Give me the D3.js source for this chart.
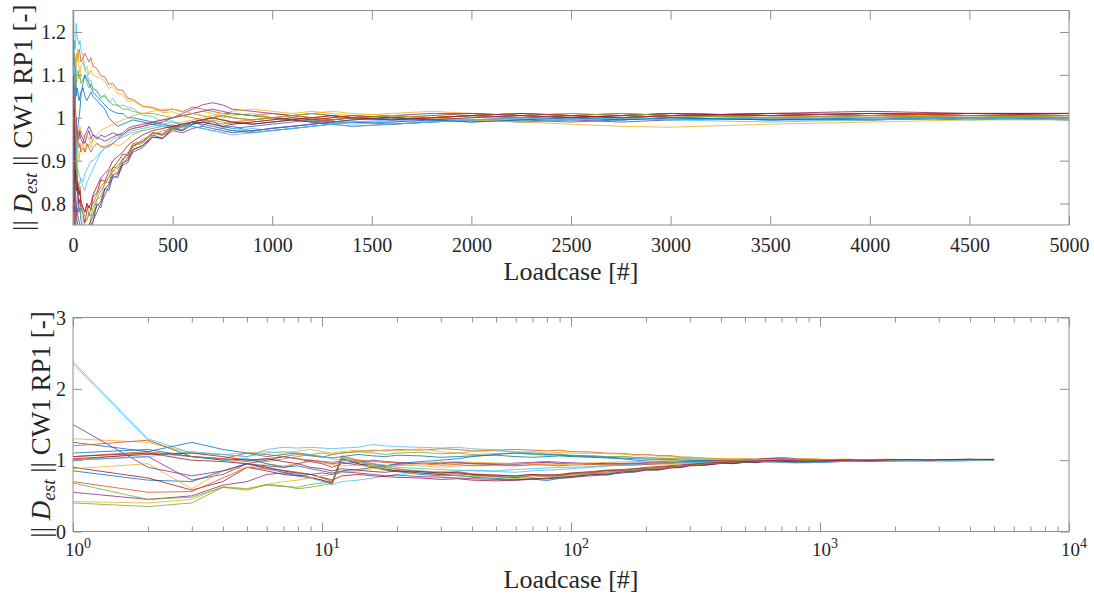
<!DOCTYPE html>
<html><head><meta charset="utf-8">
<script src="https://cdn.jsdelivr.net/npm/d3@7"></script>
<style>
body{margin:0;background:#fff}svg{display:block}
svg text{font-family:"Liberation Serif","DejaVu Serif",serif !important;fill:#262626}
</style>
</head><body>
<svg id="c" width="1094" height="596"></svg>
<script>
// Loadcase numbers at which the curves are sampled
const loadcases = [
 1,2,3,4,5,6,7,8,9,10,
 11,12,14,16,18,20,25,30,35,40,
 50,60,70,80,90,100,120,140,160,180,
 200,225,250,275,300,350,400,450,500,550,
 600,650,700,750,800,900,1000,1100,1200,1300,
 1400,1600,1800,2000,2250,2500,2750,3000,3500,4000,
 4500,5000];

const s0 = [0.85,0.72,0.70,0.85,0.95,0.88,0.83,0.80,0.76,0.72, 0.67,1.02,0.95,0.90,0.86,0.84,0.80,0.78,0.79,0.76, 0.745,0.725,0.735,0.715,0.745,0.755,0.8,0.79,0.835,0.83, 0.865,0.86,0.895,0.905,0.925,0.935,0.96,0.952,0.978,0.972, 0.992,0.982,0.993,0.978,0.98,0.968,0.976,0.98,0.985,0.99, 0.99,0.985,0.99,0.995,0.995,0.99,0.995,1.0,0.995,1.0, 0.995,1.0];
const s1 = [1.05,1.12,1.05,1.02,0.98,1.02,1.05,1.08,1.06,1.04, 1.08,1.1,1.12,1.14,1.13,1.15,1.14,1.16,1.15,1.13, 1.14,1.15,1.14,1.13,1.14,1.12,1.115,1.098,1.095,1.078, 1.08,1.065,1.064,1.045,1.043,1.027,1.024,1.016,1.02,1.014, 1.025,1.02,1.015,1.01,1.01,1.005,1.01,1.005,1.0,1.005, 1.0,1.005,1.0,1.005,1.01,1.005,1.0,1.005,1.005,1.0, 1.005,1.01];
const s2 = [1.3,1.25,1.1,1.08,1.1,1.12,1.1,1.13,1.15,1.12, 1.1,1.12,1.14,1.12,1.15,1.13,1.16,1.12,1.1,1.12, 1.13,1.11,1.12,1.1,1.11,1.1,1.095,1.092,1.085,1.068, 1.074,1.056,1.054,1.038,1.04,1.026,1.022,1.012,1.014,1.004, 1.01,1.015,1.01,1.0,1.005,1.01,1.0,0.995,1.0,0.995, 1.0,1.005,1.0,1.005,1.01,1.005,1.01,1.005,1.01,1.01, 1.005,1.005];
const s3 = [1.0,1.05,0.72,0.8,0.95,0.92,0.9,0.95,1.0,0.98, 0.95,0.97,0.93,0.95,0.92,0.94,0.96,0.95,0.97,0.96, 0.95,0.94,0.96,0.97,0.95,0.96,0.95,0.96,0.955,0.96, 0.965,0.96,0.96,0.97,0.975,0.98,0.985,0.99,1.0,1.01, 1.02,1.03,1.035,1.03,1.02,1.015,1.01,1.005,1.01,1.005, 1.0,1.005,1.01,1.01,1.005,1.01,1.005,1.01,1.005,1.01, 1.005,1.005];
const s4 = [0.4,0.35,0.4,0.62,0.6,0.65,0.63,0.62,0.66,0.68, 0.7,1.05,0.98,0.92,0.88,0.85,0.82,0.8,0.78,0.77, 0.765,0.745,0.75,0.735,0.77,0.775,0.81,0.815,0.85,0.848, 0.878,0.872,0.905,0.908,0.935,0.94,0.965,0.958,0.975,0.97, 0.985,0.99,0.995,0.99,0.985,0.99,0.995,1.0,0.995,1.0, 1.005,1.0,0.995,1.0,1.005,1.0,1.005,1.0,1.005,1.0, 1.005,1.005];
const s5 = [2.38,1.3,1.1,1.08,1.05,1.15,1.18,1.17,1.18,1.17, 1.16,1.17,1.18,1.22,1.2,1.19,1.18,1.17,1.18,1.16, 1.145,1.115,1.105,1.085,1.088,1.066,1.065,1.045,1.055,1.036, 1.045,1.026,1.03,1.024,1.022,1.006,1.003,0.991,0.993,0.982, 0.98,0.975,0.97,0.975,0.97,0.97,0.975,0.98,0.985,0.99, 0.985,0.99,0.995,0.995,1.0,0.995,1.0,0.995,1.0,0.995, 1.0,0.995];
const s6 = [0.9,0.75,0.58,0.7,0.9,0.85,0.8,0.78,0.75,0.72, 0.68,1.02,0.95,0.9,0.87,0.85,0.82,0.8,0.81,0.79, 0.775,0.755,0.785,0.795,0.785,0.815,0.825,0.855,0.852,0.875, 0.882,0.898,0.915,0.912,0.935,0.945,0.965,0.962,0.982,0.978, 0.99,0.995,1.0,0.995,0.99,0.985,0.99,0.995,0.99,0.995, 1.0,0.995,1.0,1.005,1.0,1.005,1.0,1.005,1.01,1.005, 1.01,1.01];
const s7 = [1.25,1.12,1.25,1.15,1.1,1.05,1.08,1.1,1.07,1.05, 1.03,1.05,1.08,1.06,1.05,1.07,1.06,1.04,1.05,1.06, 1.07,1.05,1.04,1.05,1.06,1.05,1.04,1.03,1.02,1.0, 0.99,0.98,0.985,0.99,0.995,0.99,0.985,0.98,0.975,0.98, 0.985,0.99,0.985,0.98,0.975,0.98,0.985,0.99,0.995,0.99, 0.995,1.0,0.995,0.99,0.995,1.0,0.995,1.0,0.995,1.0, 1.0,1.0];
const s8 = [0.7,0.55,0.56,0.75,0.9,0.88,0.86,0.83,0.8,0.75, 0.7,1.06,1.0,0.95,0.9,0.88,0.84,0.82,0.84,0.81, 0.79,0.78,0.8,0.77,0.79,0.8,0.82,0.84,0.85,0.86, 0.885,0.882,0.905,0.915,0.94,0.944,0.965,0.96,0.978,0.984, 0.99,0.995,0.99,0.985,0.99,0.995,1.0,0.995,0.99,0.995, 1.0,1.005,1.0,0.995,1.0,1.005,1.0,1.005,1.0,1.005, 1.0,1.005];
const s9 = [0.88,0.95,0.6,0.85,0.9,0.95,0.92,0.95,0.98,0.96, 0.94,0.92,0.93,0.9,0.91,0.93,0.92,0.9,0.92,0.93, 0.94,0.92,0.93,0.94,0.93,0.95,0.94,0.93,0.935,0.93, 0.94,0.935,0.94,0.95,0.96,0.97,0.975,0.98,0.985,0.99, 0.995,1.0,1.005,1.01,1.015,1.02,1.015,1.01,1.015,1.01, 1.005,1.01,1.015,1.01,1.005,1.01,1.005,1.01,1.005,1.0, 1.005,1.0];
const s10 = [1.5,0.9,0.78,0.85,0.95,1.0,1.05,1.02,0.98,0.95, 0.9,0.95,0.97,1.0,0.98,0.97,0.95,0.97,0.96,0.95, 0.94,0.96,0.97,0.98,0.97,0.96,0.955,0.95,0.945,0.95, 0.955,0.96,0.965,0.975,0.98,0.985,0.99,0.995,1.0,1.005, 1.01,1.015,1.02,1.015,1.01,1.005,1.0,0.995,0.99,0.985, 0.98,0.985,0.99,0.995,0.99,0.995,0.99,0.995,1.0,0.995, 1.0,1.0];
const s11 = [1.0,1.1,1.05,1.02,1.0,0.98,1.02,1.05,1.08,1.1, 1.08,1.1,1.12,1.1,1.08,1.1,1.11,1.09,1.1,1.08, 1.09,1.1,1.08,1.07,1.08,1.07,1.06,1.05,1.05,1.04, 1.03,1.03,1.02,1.02,1.015,1.01,1.01,1.005,1.0,1.005, 1.01,1.005,1.0,1.005,1.01,1.005,1.0,1.005,1.0,0.995, 1.0,1.005,1.0,1.005,1.0,0.995,1.0,1.005,1.0,1.005, 1.0,1.005];
const s12 = [2.35,1.28,1.05,1.0,0.95,0.9,0.85,0.8,0.75,0.7, 0.66,0.7,0.72,0.75,0.78,0.8,0.82,0.84,0.85,0.86, 0.85,0.87,0.88,0.89,0.9,0.9,0.91,0.92,0.93,0.935, 0.94,0.95,0.955,0.96,0.965,0.97,0.975,0.98,0.98,0.985, 0.98,0.975,0.97,0.965,0.97,0.975,0.97,0.975,0.98,0.985, 0.98,0.985,0.99,0.995,0.99,0.995,1.0,0.995,1.0,0.995, 1.0,1.0];
const s13 = [1.05,1.1,1.0,0.98,0.95,0.9,0.85,0.82,0.8,0.76, 0.72,0.78,0.8,0.78,0.77,0.76,0.75,0.73,0.74,0.72, 0.71,0.72,0.74,0.75,0.76,0.77,0.795,0.805,0.835,0.845, 0.868,0.87,0.895,0.9,0.926,0.935,0.955,0.952,0.974,0.97, 0.985,0.99,0.985,0.98,0.985,0.99,0.995,1.0,0.995,1.0, 1.005,1.0,1.005,1.01,1.005,1.0,1.005,1.01,1.005,1.01, 1.005,1.01];
const s14 = [1.1,1.15,1.05,1.0,1.02,0.95,0.9,0.92,0.88,0.85, 0.82,0.85,0.87,0.9,0.92,0.95,0.98,1.0,1.02,1.05, 1.08,1.1,1.09,1.08,1.07,1.06,1.05,1.04,1.03,1.02, 1.015,1.01,1.01,1.0,1.0,0.995,0.99,0.985,0.98,0.985, 0.99,0.985,0.98,0.975,0.97,0.965,0.97,0.975,0.98,0.985, 0.99,0.99,0.995,0.99,0.995,1.0,0.995,1.0,0.995,0.995, 1.0,0.995];
const s15 = [1.2,1.28,1.05,1.02,1.1,1.08,1.05,1.02,1.0,0.98, 0.97,0.99,1.0,0.98,0.97,0.96,0.95,0.93,0.94,0.92, 0.93,0.92,0.94,0.93,0.92,0.93,0.94,0.935,0.93,0.935, 0.94,0.95,0.96,0.97,0.975,0.98,0.99,0.995,1.0,1.005, 1.0,0.995,1.0,1.005,1.0,0.995,1.0,1.005,1.0,0.995, 1.0,0.995,1.0,1.005,1.0,1.005,1.01,1.005,1.01,1.005, 1.01,1.01];
const s16 = [0.42,0.4,0.45,0.63,0.6,0.66,0.7,0.72,0.75,0.78, 0.8,0.82,0.85,0.88,0.9,0.92,0.95,0.97,0.98,0.97, 0.96,0.95,0.96,0.95,0.94,0.95,0.96,0.97,0.975,0.98, 0.985,0.99,0.995,1.0,1.005,1.01,1.015,1.02,1.02,1.015, 1.01,1.005,1.0,0.995,0.99,0.995,1.0,1.005,1.01,1.015, 1.01,1.005,1.0,0.995,0.99,0.985,0.98,0.978,0.985,0.99, 0.995,0.995];
const s17 = [0.55,0.45,0.5,0.65,0.7,0.8,0.82,0.78,0.8,0.82, 0.8,0.84,0.82,0.8,0.78,0.79,0.77,0.76,0.75,0.74, 0.73,0.72,0.73,0.74,0.75,0.76,0.78,0.8,0.82,0.84, 0.86,0.865,0.89,0.895,0.92,0.93,0.955,0.952,0.97,0.965, 0.975,0.98,0.975,0.97,0.965,0.97,0.975,0.98,0.985,0.99, 0.995,1.0,0.995,1.0,1.005,1.0,1.005,1.01,1.005,1.01, 1.01,1.01];
const s18 = [0.68,0.45,0.48,0.62,0.58,0.66,0.64,0.6,0.62,0.65, 0.67,1.03,0.97,0.93,0.9,0.87,0.85,0.83,0.82,0.8, 0.78,0.77,0.76,0.78,0.77,0.79,0.81,0.83,0.845,0.86, 0.875,0.89,0.9,0.92,0.93,0.95,0.96,0.97,0.975,0.98, 0.99,0.995,1.0,1.005,1.0,0.995,1.0,1.005,1.01,1.005, 1.0,1.005,1.0,1.005,1.01,1.005,1.01,1.005,1.0,1.005, 1.005,1.0];
const s19 = [1.0,1.05,1.12,1.08,1.05,1.1,1.12,1.1,1.08,1.05, 1.02,1.0,0.98,0.95,0.93,0.9,0.88,0.87,0.86,0.85, 0.84,0.83,0.85,0.86,0.87,0.88,0.9,0.92,0.93,0.94, 0.95,0.955,0.96,0.965,0.97,0.975,0.98,0.985,0.99,0.985, 0.98,0.975,0.97,0.965,0.96,0.965,0.97,0.975,0.98,0.985, 0.99,0.995,0.99,0.995,1.0,0.995,1.0,0.995,0.99,0.995, 1.0,0.995];
const s20 = [1.02,1.08,1.1,1.05,1.0,1.02,0.98,0.95,0.9,0.88, 0.85,0.88,0.86,0.84,0.83,0.85,0.84,0.82,0.83,0.8, 0.79,0.78,0.8,0.79,0.8,0.82,0.84,0.86,0.87,0.88, 0.9,0.91,0.92,0.935,0.945,0.96,0.97,0.975,0.98,0.985, 0.99,0.995,1.0,0.995,0.99,0.985,0.99,0.995,1.0,1.005, 1.0,0.995,1.0,1.005,1.01,1.005,1.0,1.005,1.01,1.015, 1.01,1.01];

const seriesList = [s0,s1,s2,s3,s4,s5,s6,s7,s8,s9,s10,s11,s12,s13,s14,s15,s16,s17,s18,s19,s20];

const topXTicks = [0,500,1000,1500,2000,2500,3000,3500,4000,4500,5000];
const topYTicks = [0.8,0.9,1,1.1,1.2];
const botXTicks = [1,10,100,1000,10000];
const botXTickExp = ["0","1","2","3","4"];
const botYTicks = [0,1,2,3];
const xLabel = "Loadcase [#]";

const colors = ["#0072BD","#D95319","#EDB120","#7E2F8E","#77AC30","#4DBEEE","#A2142F"];
const AX = "#8f8f8f";
const TICKFS = 20, XLABFS = 26, YLABFS = 27;

const svg = d3.select("#c");

function yLabel(g, bx, cy) {
  const t = g.append("text").attr("transform", `translate(${bx},${cy}) rotate(-90)`)
    .attr("text-anchor","middle").attr("font-size",YLABFS);
  t.append("tspan").text("|| ");
  t.append("tspan").attr("font-style","italic").text("D");
  t.append("tspan").attr("font-style","italic").attr("font-size",19).attr("dy",5).text("est");
  t.append("tspan").attr("dy",-5).text(" || CW1 RP1 [-]");
}

function panel(cfg) {
  const {x, y, id} = cfg;
  const [x0,x1] = x.range(); const [y0,y1] = y.range();
  const g = svg.append("g");
  g.append("clipPath").attr("id",id).append("rect")
    .attr("x",x0).attr("y",y1).attr("width",x1-x0).attr("height",y0-y1);
  const line = d3.line().x((d,i)=>x(loadcases[i])).y(d=>y(d));
  g.append("g").attr("clip-path",`url(#${id})`)
    .selectAll("path").data(seriesList).join("path")
    .attr("d", line).attr("fill","none")
    .attr("stroke",(d,i)=>colors[i%7]).attr("stroke-width",0.8)
    .attr("stroke-linejoin","round");
  return g;
}

function styleAxis(sel, labels) {
  sel.select(".domain").remove();
  sel.selectAll(".tick line").attr("stroke",AX).attr("stroke-width",1);
  sel.selectAll(".tick text").attr("font-size",TICKFS);
  if (!labels) sel.selectAll(".tick text").remove();
}

const TK = 9;
let a;
// ---------- TOP PANEL ----------
const xT = d3.scaleLinear().domain([0,5000]).range([73,1069]);
const yT = d3.scaleLinear().domain([0.75,1.25]).range([225,10.5]);
const gT = panel({x:xT, y:yT, id:"clipT"});
a = gT.append("g").attr("transform",`translate(0,${yT.range()[0]})`)
  .call(d3.axisBottom(xT).tickValues(topXTicks).tickSize(-TK).tickFormat(d3.format("d")));
styleAxis(a,true);
a.selectAll(".tick text").attr("dy",null).attr("y",27);
a = gT.append("g").attr("transform",`translate(0,${yT.range()[1]})`)
  .call(d3.axisTop(xT).tickValues(topXTicks).tickSize(-TK)); styleAxis(a,false);
a = gT.append("g").attr("transform",`translate(${xT.range()[0]},0)`)
  .call(d3.axisLeft(yT).tickValues(topYTicks).tickSize(-TK).tickFormat(d=>String(d)));
styleAxis(a,true);
a.selectAll(".tick text").attr("x",-7).attr("dy","0.34em");
a = gT.append("g").attr("transform",`translate(${xT.range()[1]},0)`)
  .call(d3.axisRight(yT).tickValues(topYTicks).tickSize(-TK)); styleAxis(a,false);
gT.append("rect").attr("x",73).attr("y",10.5).attr("width",1069-73).attr("height",225-10.5)
  .attr("fill","none").attr("stroke",AX).attr("stroke-width",1);
gT.append("text").attr("x",(73+1069)/2).attr("y",280).attr("text-anchor","middle")
  .attr("font-size",XLABFS).text(xLabel);
yLabel(gT, 32, (10.5+225)/2);

// ---------- BOTTOM PANEL ----------
const xB = d3.scaleLog().domain([1,10000]).range([73,1069]);
const yB = d3.scaleLinear().domain([0,3]).range([531.5,317.5]);
const gB = panel({x:xB, y:yB, id:"clipB"});
const minor = [];
for (let e=0;e<4;e++) for (let k=2;k<=9;k++) minor.push(k*Math.pow(10,e));
const bt = yB.range()[0], tp = yB.range()[1];
a = gB.append("g").attr("transform",`translate(0,${bt})`).call(d3.axisBottom(xB).tickValues(botXTicks).tickSize(-TK)); styleAxis(a,false);
a = gB.append("g").attr("transform",`translate(0,${bt})`).call(d3.axisBottom(xB).tickValues(minor).tickSize(-5)); styleAxis(a,false);
a = gB.append("g").attr("transform",`translate(0,${tp})`).call(d3.axisTop(xB).tickValues(botXTicks).tickSize(-TK)); styleAxis(a,false);
a = gB.append("g").attr("transform",`translate(0,${tp})`).call(d3.axisTop(xB).tickValues(minor).tickSize(-5)); styleAxis(a,false);
a = gB.append("g").attr("transform",`translate(${xB.range()[0]},0)`)
  .call(d3.axisLeft(yB).tickValues(botYTicks).tickSize(-TK).tickFormat(d3.format("d")));
styleAxis(a,true);
a.selectAll(".tick text").attr("x",-7).attr("dy","0.34em");
a = gB.append("g").attr("transform",`translate(${xB.range()[1]},0)`)
  .call(d3.axisRight(yB).tickValues(botYTicks).tickSize(-TK)); styleAxis(a,false);
gB.append("rect").attr("x",73).attr("y",tp).attr("width",1069-73).attr("height",bt-tp)
  .attr("fill","none").attr("stroke",AX).attr("stroke-width",1);
const lbl = gB.append("g").selectAll("text").data(botXTicks).join("text")
  .attr("x",d=>xB(d)+5).attr("y",bt+24).attr("text-anchor","middle")
  .attr("font-size",19);
lbl.append("tspan").text("10");
lbl.append("tspan").attr("dy",-8).attr("font-size",14).text((d,i)=>botXTickExp[i]);
gB.append("text").attr("x",(73+1069)/2).attr("y",588).attr("text-anchor","middle")
  .attr("font-size",XLABFS).text(xLabel);
yLabel(gB, 50, (tp+bt)/2);
</script>
</body></html>
